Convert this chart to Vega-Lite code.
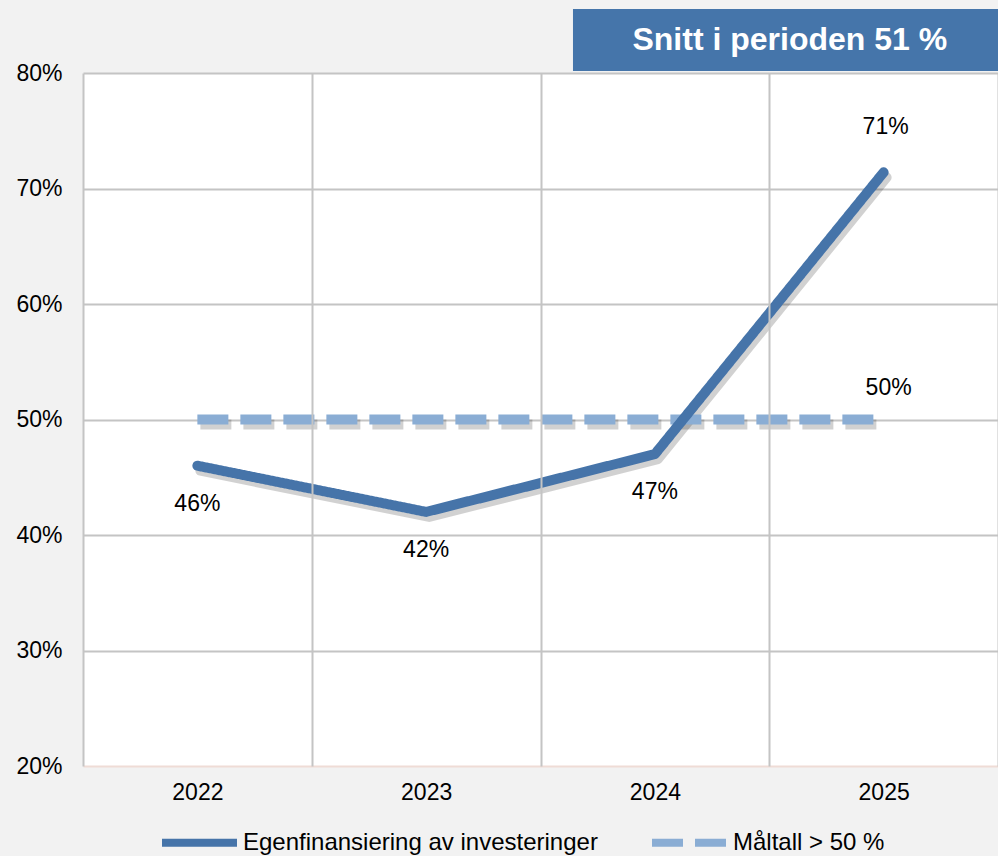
{
  "$schema": "https://vega.github.io/schema/vega-lite/v6.json",
  "width": 915,
  "height": 693,
  "padding": {"left": 15, "top": 9, "right": 0, "bottom": 0},
  "background": "#f2f2f2",
  "config": {
    "font": "Liberation Sans",
    "view": {"stroke": null, "fill": "white"},
    "axis": {"title": null, "domain": false, "ticks": false, "tickSize": 0, "labelFontSize": 23, "labelColor": "#000000", "labelFont": "Liberation Sans", "gridColor": "#c4c4c4", "gridWidth": 2},
    "axisY": {"labelPadding": 21, "minExtent": 68, "maxExtent": 68},
    "axisX": {"labelPadding": 15, "labelAngle": 0, "tickBand": "extent", "grid": true},
    "legend": {"orient": "none", "legendX": 75, "legendY": 728, "direction": "horizontal", "labelFontSize": 24, "labelColor": "#000000", "labelFont": "Liberation Sans", "symbolType": "stroke", "symbolStrokeWidth": 8, "symbolSize": 5625, "columnPadding": 38, "labelLimit": 0, "labelOffset": 2}
  },
  "datasets": {
    "series": [
      {"year": "2022", "value": 0.46, "series": "Egenfinansiering av investeringer"},
      {"year": "2023", "value": 0.42, "series": "Egenfinansiering av investeringer"},
      {"year": "2024", "value": 0.47, "series": "Egenfinansiering av investeringer"},
      {"year": "2025", "value": 0.714, "series": "Egenfinansiering av investeringer"},
      {"year": "2022", "value": 0.5, "series": "Måltall > 50 %"},
      {"year": "2023", "value": 0.5, "series": "Måltall > 50 %"},
      {"year": "2024", "value": 0.5, "series": "Måltall > 50 %"},
      {"year": "2025", "value": 0.5, "series": "Måltall > 50 %"}
    ],
    "banner": [
      {"from": "2024", "to": "2025", "high": 0.8554, "low": 0.8017, "label": "Snitt i perioden 51 %"}
    ]
  },
  "layer": [
    {
      "data": {"name": "banner"},
      "mark": {"type": "rect", "color": "#4575AA"},
      "encoding": {
        "x": {"field": "from", "type": "ordinal", "bandPosition": 0.142, "scale": {"type": "band", "domain": ["2022", "2023", "2024", "2025"], "paddingInner": 0, "paddingOuter": 0}},
        "x2": {"field": "to", "bandPosition": 1},
        "y": {"field": "high", "type": "quantitative", "scale": {"domain": [0.2, 0.8], "nice": false, "zero": false}},
        "y2": {"field": "low"}
      }
    },
    {
      "data": {"name": "banner"},
      "mark": {"type": "text", "color": "white", "fontSize": 32, "fontWeight": "bold", "baseline": "middle", "align": "center", "dy": 31},
      "encoding": {
        "x": {"field": "to", "type": "ordinal", "bandPosition": 0.09, "scale": {"type": "band"}},
        "y": {"field": "high", "type": "quantitative"},
        "text": {"field": "label"}
      }
    },
    {
      "data": {"name": "series"},
      "transform": [{"filter": "datum.series === 'Måltall > 50 %'"}],
      "mark": {"type": "line", "color": "#000000", "opacity": 0.18, "strokeWidth": 10, "strokeCap": "butt", "strokeDash": [31, 12], "xOffset": 3, "yOffset": 5},
      "encoding": {
        "x": {"field": "year", "type": "ordinal", "bandPosition": 0.5, "scale": {"type": "band"}},
        "y": {"field": "value", "type": "quantitative"}
      }
    },
    {
      "data": {"name": "series"},
      "transform": [{"filter": "datum.series === 'Egenfinansiering av investeringer'"}],
      "mark": {"type": "line", "color": "#000000", "opacity": 0.18, "strokeWidth": 10, "strokeCap": "round", "strokeJoin": "round", "xOffset": 3, "yOffset": 5},
      "encoding": {
        "x": {"field": "year", "type": "ordinal", "bandPosition": 0.5, "scale": {"type": "band"}},
        "y": {"field": "value", "type": "quantitative"}
      }
    },
    {
      "data": {"name": "series"},
      "transform": [{"filter": "datum.series === 'Måltall > 50 %'"}],
      "mark": {"type": "line", "strokeWidth": 10, "strokeCap": "butt"},
      "encoding": {
        "x": {"field": "year", "type": "ordinal", "bandPosition": 0.5, "scale": {"type": "band"}},
        "y": {"field": "value", "type": "quantitative"},
        "color": {"field": "series", "type": "nominal", "scale": {"domain": ["Egenfinansiering av investeringer", "Måltall > 50 %"], "range": ["#4674A9", "#8AADD4"]}, "legend": {"title": null}},
        "strokeDash": {"field": "series", "type": "nominal", "scale": {"domain": ["Egenfinansiering av investeringer", "Måltall > 50 %"], "range": [[1, 0], [31, 12]]}, "legend": {"title": null}}
      }
    },
    {
      "data": {"name": "series"},
      "transform": [{"filter": "datum.series === 'Egenfinansiering av investeringer'"}],
      "mark": {"type": "line", "strokeWidth": 10, "strokeCap": "round", "strokeJoin": "round"},
      "encoding": {
        "x": {"field": "year", "type": "ordinal", "bandPosition": 0.5, "scale": {"type": "band"}},
        "y": {"field": "value", "type": "quantitative", "axis": {"values": [0.2, 0.3, 0.4, 0.5, 0.6, 0.7, 0.8], "format": ".0%", "gridColor": {"condition": {"test": "datum.value <= 0.2", "value": "#efdcd6"}, "value": "#c4c4c4"}}},
        "color": {"field": "series", "type": "nominal", "legend": {"title": null}},
        "strokeDash": {"field": "series", "type": "nominal", "legend": {"title": null}}
      }
    },
    {
      "data": {"name": "series"},
      "transform": [{"filter": "datum.series === 'Egenfinansiering av investeringer' && datum.year !== '2025'"}],
      "mark": {"type": "text", "fontSize": 23, "color": "#000000", "baseline": "middle", "dy": 38},
      "encoding": {
        "x": {"field": "year", "type": "ordinal", "bandPosition": 0.5, "scale": {"type": "band"}},
        "y": {"field": "value", "type": "quantitative"},
        "text": {"field": "value", "format": ".0%"}
      }
    },
    {
      "data": {"name": "series"},
      "transform": [{"filter": "datum.series === 'Egenfinansiering av investeringer' && datum.year === '2025'"}],
      "mark": {"type": "text", "fontSize": 23, "color": "#000000", "baseline": "middle", "dy": -45, "dx": 2},
      "encoding": {
        "x": {"field": "year", "type": "ordinal", "bandPosition": 0.5, "scale": {"type": "band"}},
        "y": {"field": "value", "type": "quantitative"},
        "text": {"field": "value", "format": ".0%"}
      }
    },
    {
      "data": {"name": "series"},
      "transform": [{"filter": "datum.series === 'Måltall > 50 %' && datum.year === '2025'"}],
      "mark": {"type": "text", "fontSize": 23, "color": "#000000", "baseline": "middle", "dy": -32, "dx": 5},
      "encoding": {
        "x": {"field": "year", "type": "ordinal", "bandPosition": 0.5, "scale": {"type": "band"}},
        "y": {"field": "value", "type": "quantitative"},
        "text": {"field": "value", "format": ".0%"}
      }
    }
  ]
}
